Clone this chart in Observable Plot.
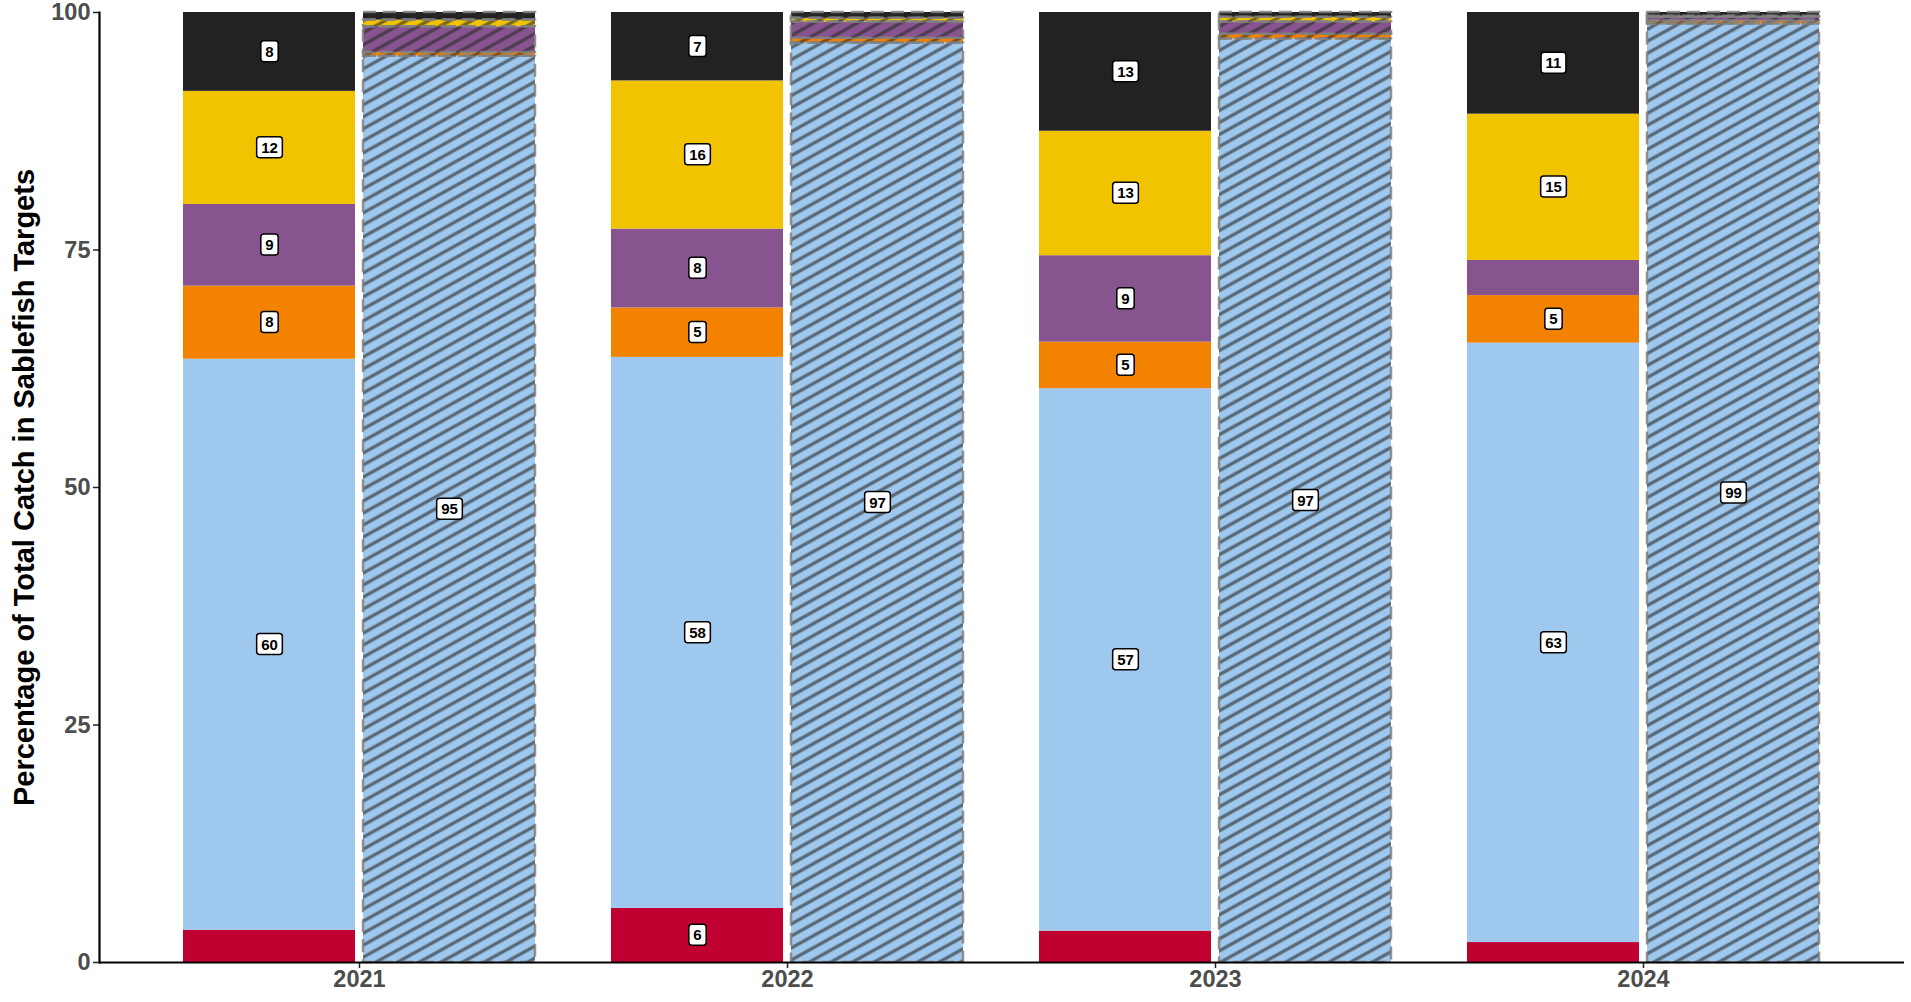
<!DOCTYPE html>
<html>
<head>
<meta charset="utf-8">
<script src="https://cdn.jsdelivr.net/npm/d3@7"></script>
<script src="https://cdn.jsdelivr.net/npm/@observablehq/plot@0.6"></script>
<style>
  html, body { margin: 0; padding: 0; background: #ffffff; }
  #chart svg { display: block; }
</style>
</head>
<body>
<div id="chart"></div>
<script>
// ---- Data ----
const years = ["2021", "2022", "2023", "2024"];
const categories = ["Category 1", "Category 2", "Category 3", "Category 4", "Category 5", "Category 6"];
const categoryColors = ["#C00030", "#9FC8EE", "#F28200", "#87548F", "#F2C300", "#222222"];

// Left (solid) bars, bottom to top, one value per year
const solidCat1 = [3.4, 5.7, 3.3, 2.1];
const solidCat2 = [60.1, 58.0, 57.1, 63.1];
const solidCat3 = [7.7, 5.2, 4.9, 5.0];
const solidCat4 = [8.6, 8.3, 9.1, 3.7];
const solidCat5 = [11.9, 15.6, 13.1, 15.4];
const solidCat6 = [8.3, 7.2, 12.5, 10.7];

// Right (hatched) bars, bottom to top, one value per year
const hatchCat1 = [0, 0, 0, 0];
const hatchCat2 = [95.4, 96.8, 97.2, 98.8];
const hatchCat3 = [0.4, 0.5, 0.5, 0.3];
const hatchCat4 = [2.7, 1.7, 1.3, 0.4];
const hatchCat5 = [0.7, 0.4, 0.5, 0.1];
const hatchCat6 = [0.8, 0.6, 0.5, 0.4];

const yTicks = [0, 25, 50, 75, 100];
const yTitle = "Percentage of Total Catch in Sablefish Targets";
const labelMin = 4.5;

// ---- Build tables ----
function rows(seriesList) {
  const out = [];
  seriesList.forEach((series, ci) => {
    series.forEach((v, yi) => {
      if (v > 0) out.push({year: years[yi], category: categories[ci], value: v});
    });
  });
  return out;
}
const solidRows = rows([solidCat1, solidCat2, solidCat3, solidCat4, solidCat5, solidCat6]);
const hatchRows = rows([hatchCat1, hatchCat2, hatchCat3, hatchCat4, hatchCat5, hatchCat6]);
const labelText = d => d.value >= labelMin ? String(Math.round(d.value)) : "";
const labelTag = () => "seglabel";

const font = "'Liberation Sans', Arial, Helvetica, sans-serif";

const chart = Plot.plot({
  width: 1911,
  height: 1002,
  marginTop: 12,
  marginBottom: 40,
  marginLeft: 99,
  marginRight: 7,
  style: {fontFamily: font, background: "#ffffff"},
  x: {domain: years, paddingInner: 0.177, paddingOuter: 0.195, label: null},
  y: {domain: [0, 100], label: null},
  color: {domain: categories, range: categoryColors},
  marks: [
    // solid bars
    Plot.barY(solidRows, Plot.stackY({
      x: "year", y: "value", fill: "category", order: categories, insetRight: 180
    })),
    // hatched bars: colour underneath
    Plot.barY(hatchRows, Plot.stackY({
      x: "year", y: "value", fill: "category", order: categories, insetLeft: 180
    })),
    // hatched bars: stripes + dashed outline
    Plot.barY(hatchRows, Plot.stackY({
      x: "year", y: "value", z: "category", order: categories, insetLeft: 180,
      fill: "url(#hatch)", stroke: "#808080", strokeWidth: 2.5,
      strokeDasharray: "13,7", strokeOpacity: 0.85
    })),
    // labels
    Plot.text(solidRows, Plot.stackY({
      x: "year", y: "value", z: "category", order: categories,
      text: labelText, dx: -90, fontSize: 15, fontWeight: "bold", fill: "#000000",
      ariaLabel: labelTag
    })),
    Plot.text(hatchRows, Plot.stackY({
      x: "year", y: "value", z: "category", order: categories,
      text: labelText, dx: 90, fontSize: 15, fontWeight: "bold", fill: "#000000",
      ariaLabel: labelTag
    })),
    // axes
    Plot.axisY(yTicks, {
      tickSize: 6, tickPadding: 3, fontSize: 23.5, fontWeight: "bold",
      fill: "#4d4d4d", stroke: "#222222", strokeWidth: 1.5, label: null
    }),
    Plot.axisX({
      tickSize: 6, tickPadding: 2, fontSize: 23.5, fontWeight: "bold",
      fill: "#4d4d4d", stroke: "#222222", strokeWidth: 1.5, label: null
    }),
    Plot.frame({anchor: "left", stroke: "#000000", strokeWidth: 2.2}),
    Plot.ruleY([0], {stroke: "#000000", strokeWidth: 2.2}),
    // y title
    Plot.text([yTitle], {
      text: d => d, frameAnchor: "left", textAnchor: "middle", rotate: -90, dx: -75,
      fontSize: 29, fontWeight: "bold", fill: "#000000"
    })
  ]
});

document.getElementById("chart").appendChild(chart);

// hatch pattern definition
const svg = d3.select(chart.tagName.toLowerCase() === "svg" ? chart : chart.querySelector("svg"));
const pat = svg.insert("defs", ":first-child")
  .append("pattern")
  .attr("id", "hatch")
  .attr("patternUnits", "userSpaceOnUse")
  .attr("width", 24)
  .attr("height", 10.5)
  .attr("patternTransform", "rotate(-29)");
pat.append("line")
  .attr("x1", -2).attr("y1", 5.25).attr("x2", 26).attr("y2", 5.25)
  .attr("stroke", "#2a2a2a").attr("stroke-opacity", 0.6).attr("stroke-width", 3.4);

// white rounded boxes behind labels
svg.selectAll("text").each(function () {
  if (this.getAttribute("aria-label") !== "seglabel") return;
  if (!this.textContent) return;
  const b = this.getBBox();
  const padX = 4.5, padY = 2;
  const rect = document.createElementNS("http://www.w3.org/2000/svg", "rect");
  rect.setAttribute("x", b.x - padX);
  rect.setAttribute("y", b.y - padY);
  rect.setAttribute("width", b.width + 2 * padX);
  rect.setAttribute("height", b.height + 2 * padY);
  rect.setAttribute("rx", 3);
  rect.setAttribute("fill", "#ffffff");
  rect.setAttribute("stroke", "#000000");
  rect.setAttribute("stroke-width", 1.5);
  const tr = this.getAttribute("transform");
  if (tr) rect.setAttribute("transform", tr);
  this.parentNode.insertBefore(rect, this);
});
</script>
</body>
</html>
